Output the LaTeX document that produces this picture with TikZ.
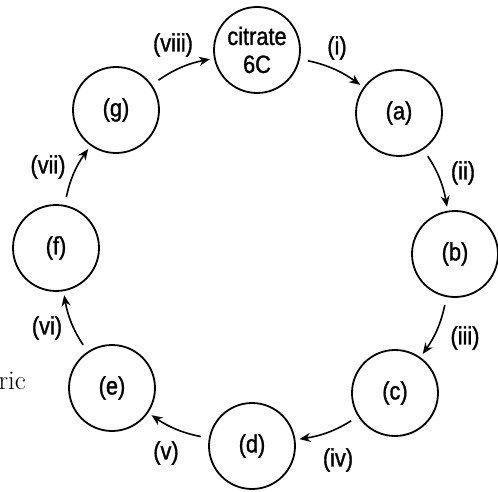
\documentclass[tikz,border=0pt]{standalone}
\usepackage{fontspec}
\usetikzlibrary{arrows.meta}
\newfontfamily\narrowsans[FakeStretch=0.87, FakeBold=1.2]{Liberation Sans}

\begin{document}
\begin{tikzpicture}[x=1pt, y=-1pt,
  stage/.style={circle, draw, line width=1.8pt, minimum size=86pt, inner sep=0pt,
    align=center, font=\narrowsans\fontsize{25}{28}\selectfont},
  cyc/.style={-{Stealth[length=11pt,width=9pt]}, line width=1.6pt,
    shorten <=8pt, shorten >=4pt, bend left=12},
  lbl/.style={font=\narrowsans\fontsize{25}{28}\selectfont}]
  \useasboundingbox (0,0) rectangle (498,492);
  % stages of the cycle
  \node[stage] (cit) at (257,50) {citrate\\6C};
  \node[stage] (a) at (399,113) {(a)};
  \node[stage] (b) at (455,254) {(b)};
  \node[stage] (c) at (395,393) {(c)};
  \node[stage] (d) at (252,446) {(d)};
  \node[stage] (e) at (112,388) {(e)};
  \node[stage] (f) at (56,248) {(f)};
  \node[stage] (g) at (116,110) {(g)};
  % steps
  \draw[cyc] (cit) to (a);
  \draw[cyc] (a) to (b);
  \draw[cyc] (b) to (c);
  \draw[cyc] (c) to (d);
  \draw[cyc] (d) to (e);
  \draw[cyc] (e) to (f);
  \draw[cyc] (f) to (g);
  \draw[cyc] (g) to (cit);
  \node[lbl] (li) at (337,48) {(i)};
  \node[lbl] (lii) at (463,173) {(ii)};
  \node[lbl] (liii) at (465,338) {(iii)};
  \node[lbl] (liv) at (338,460) {(iv)};
  \node[lbl] (lv) at (166,453) {(v)};
  \node[lbl] (lvi) at (47,328) {(vi)};
  \node[lbl] (lvii) at (48,167) {(vii)};
  \node[lbl] (lviii) at (173,45) {(viii)};
  % cut-off word at the left edge
  \node[font=\fontsize{27}{30}\selectfont, anchor=east, inner sep=0pt] (frag) at (26,381) {ric};
\end{tikzpicture}
\end{document}
